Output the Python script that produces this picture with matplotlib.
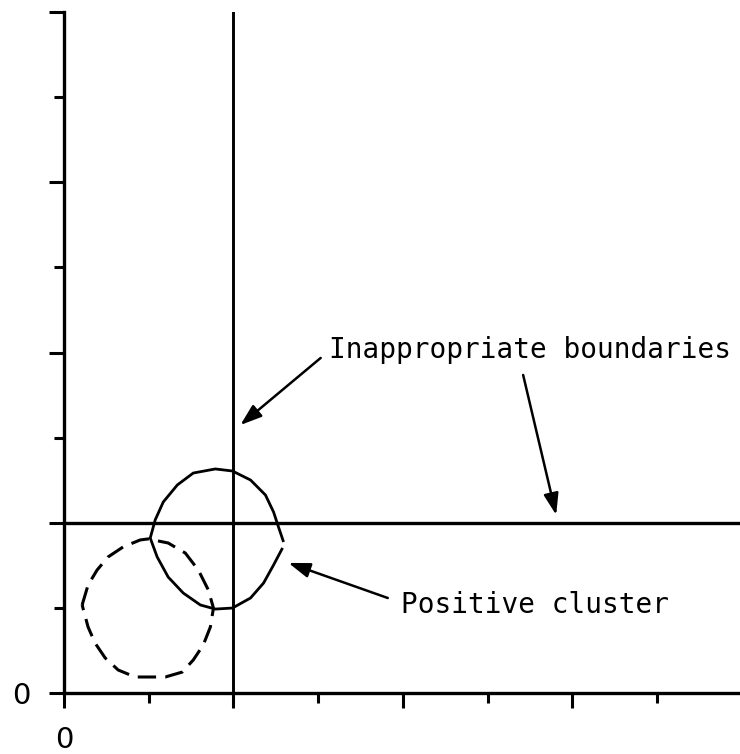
import matplotlib
matplotlib.use("Agg")
import matplotlib.pyplot as plt
from matplotlib.ticker import MultipleLocator

# Positive cluster (solid curve): open at the right-hand point
pos_x = [1.296, 1.266, 1.237, 1.189, 1.101, 0.994, 0.893, 0.763, 0.669, 0.586, 0.538,
         0.509, 0.550, 0.615, 0.704, 0.805, 0.893, 0.994, 1.101, 1.178, 1.237, 1.290]
pos_y = [0.887, 0.975, 1.063, 1.163, 1.251, 1.304, 1.316, 1.292, 1.222, 1.122, 1.016,
         0.910, 0.799, 0.681, 0.587, 0.517, 0.493, 0.499, 0.558, 0.646, 0.752, 0.852]

# Other cluster (dashed closed curve)
neg_x = [0.107, 0.142, 0.195, 0.260, 0.349, 0.450, 0.497, 0.615, 0.716, 0.793, 0.852,
         0.882, 0.864, 0.822, 0.763, 0.698, 0.598, 0.420, 0.320, 0.243, 0.183, 0.142, 0.107]
neg_y = [0.517, 0.634, 0.722, 0.799, 0.858, 0.899, 0.905, 0.881, 0.822, 0.722, 0.605,
         0.499, 0.388, 0.282, 0.194, 0.123, 0.094, 0.094, 0.135, 0.206, 0.294, 0.388, 0.517]

# Boundaries
x_boundary = 1.0
y_boundary = 1.0

labels = ["Inappropriate boundaries", "Positive cluster"]

fig = plt.figure(figsize=(7.40, 7.54), dpi=100)
ax = fig.add_axes([64/740, 61/754, 676/740, 681/754])
ax.set_xlim(0, 3.99)
ax.set_ylim(0, 4)

ax.plot(pos_x, pos_y, color="black", lw=2.0, solid_capstyle="butt", solid_joinstyle="round")
ax.plot(neg_x, neg_y, color="black", lw=2.2, dashes=(6.0, 3.0), dash_capstyle="butt")

ax.axvline(x_boundary, color="black", lw=2.1)
ax.axhline(y_boundary, color="black", lw=2.4)

for s in ["top", "right"]:
    ax.spines[s].set_visible(False)
for s in ["left", "bottom"]:
    ax.spines[s].set_linewidth(2.4)

ax.xaxis.set_minor_locator(MultipleLocator(0.5))
ax.yaxis.set_minor_locator(MultipleLocator(0.5))
ax.set_xticks([0, 1, 2, 3])
ax.set_xticklabels(["0", "", "", ""])
ax.set_yticks([0, 1, 2, 3, 4])
ax.set_yticklabels(["0", "", "", "", ""])
ax.tick_params(which="major", length=11, width=2.2, direction="out")
ax.tick_params(which="minor", length=7, width=2.2, direction="out")
ax.tick_params(axis="x", which="major", pad=13, labelsize=21)
ax.tick_params(axis="y", which="major", pad=13, labelsize=21)

font = dict(family="DejaVu Sans Mono", fontsize=20)
ax.text(1.562, 1.968, labels[0], ha="left", va="baseline", **font)
ax.text(1.988, 0.470, labels[1], ha="left", va="baseline", **font)

arrowprops = dict(arrowstyle="-|>,head_length=1.3,head_width=0.45", color="black",
                  lw=1.8, shrinkA=0, shrinkB=0)
ax.annotate("", xy=(1.041, 1.574), xytext=(1.515, 1.968), arrowprops=arrowprops)
ax.annotate("", xy=(2.905, 1.046), xytext=(2.710, 1.868), arrowprops=arrowprops)
ax.annotate("", xy=(1.325, 0.764), xytext=(1.911, 0.558), arrowprops=arrowprops)

fig.savefig("out.png", dpi=100)
